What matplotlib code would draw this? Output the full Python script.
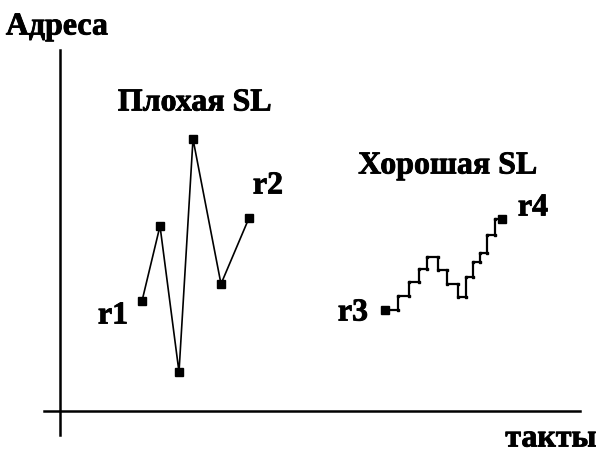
import matplotlib
matplotlib.use("Agg")
import matplotlib.pyplot as plt
import matplotlib.patheffects as pe
import numpy as np

# "Bad" access pattern (time, address), arbitrary units
bad_t = [82.5, 100.5, 119.5, 133.5, 161.5, 189.5]
bad_a = [110, 185, 39, 272, 127, 193]

# "Good" access pattern: staircase (steps-post)
good_t = [325.5, 338.5, 349.5, 359.5, 367.5, 378.5, 387.5, 398.5, 406.5,
          413.5, 420.5, 427.5, 435.5, 442.5]
good_a = [101, 115, 129, 142, 154, 141, 127, 114, 134, 149, 158, 176, 192, 192]

title_bad = "Плохая SL"
title_good = "Хорошая SL"
ylabel = "Адреса"
xlabel = "такты"
point_labels = ["r1", "r2", "r3", "r4"]

plt.rcParams['font.family'] = ['Liberation Serif', 'DejaVu Serif']

fig = plt.figure(figsize=(6.11, 4.58), dpi=100)
ax = fig.add_axes([0, 0, 1, 1])
ax.set_xlim(-59.5, 551.5)
ax.set_ylim(-47, 411)

for s in ['top', 'right']:
    ax.spines[s].set_visible(False)
ax.spines['left'].set_position(('data', 0))
ax.spines['bottom'].set_position(('data', 0))
ax.spines['left'].set_bounds(-24, 361)
ax.spines['bottom'].set_bounds(-15.5, 520.5)
ax.spines['left'].set_linewidth(1.8)
ax.spines['bottom'].set_linewidth(1.8)
ax.set_xticks([])
ax.set_yticks([])
ax.patch.set_visible(False)

# bad pattern
ax.plot(bad_t, bad_a, color='black', lw=1.2, marker='s', ms=5.5,
        mec='black', mfc='black')

# good pattern staircase
ax.plot(good_t, good_a, color='black', lw=1.6, drawstyle='steps-post')
ct, ca = [], []
for i in range(1, len(good_t) - 1):
    ct += [good_t[i], good_t[i + 1]]
    ca += [good_a[i], good_a[i]]
ct += [good_t[1]]
ca += [good_a[0]]
ax.plot(ct, ca, ls='none', marker='s', ms=2.0, color='black')
ax.plot([good_t[0], good_t[-1]], [good_a[0], good_a[-1]], ls='none',
        marker='s', ms=5.5, color='black')

fs = 23
heavy = [pe.withStroke(linewidth=0.6, foreground='black')]
kw = dict(fontsize=fs, fontweight='bold', ha='center', va='center',
          path_effects=heavy)
ax.text(-2.5, 384, ylabel, **kw)
ax.text(491.5, -28, xlabel, **kw)
ax.text(135.5, 308, title_bad, **kw)
ax.text(388.5, 245, title_good, **kw)
ax.text(53.5, 95, point_labels[0], **kw)
ax.text(208.5, 225, point_labels[1], **kw)
ax.text(293.5, 98, point_labels[2], **kw)
ax.text(473.5, 203, point_labels[3], **kw)

fig.savefig("out.png", dpi=100, facecolor='white')
